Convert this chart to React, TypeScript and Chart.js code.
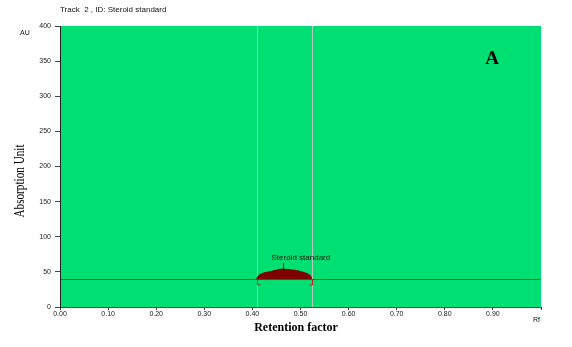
import React, { useEffect, useRef } from "react";
import { Chart, registerables } from "chart.js";

Chart.register(...registerables);

const peakRf = [0.409, 0.411, 0.415, 0.424, 0.438, 0.45, 0.462, 0.472, 0.485, 0.498, 0.51, 0.518, 0.522, 0.523];
const peakAU = [40, 43.5, 46, 48.5, 50.5, 52.5, 54, 53.5, 52.5, 51, 48.5, 46, 43, 40];
const baselineAU = 40;
const windowStart = 0.409;
const windowEnd = 0.523;
const peakLabel = "Steroid standard";
const peakLabelRf = 0.464;
const xTickMax = 0.9;

const GREEN = "#00e072";
const SANS = "'Liberation Sans', Arial, sans-serif";
const SERIF = "'Liberation Serif', 'Times New Roman', serif";

const decorPlugin = {
  id: "decor",
  beforeDraw(chart: any) {
    const { ctx, chartArea } = chart;
    ctx.save();
    ctx.fillStyle = "#ffffff";
    ctx.fillRect(0, 0, chart.width, chart.height);
    ctx.fillStyle = GREEN;
    ctx.fillRect(chartArea.left, chartArea.top, chartArea.right - chartArea.left, chartArea.bottom - chartArea.top);
    const xs = chart.scales.x;
    const ys = chart.scales.y;
    ctx.strokeStyle = "#b8c8c0";
    ctx.lineWidth = 1;
    [windowStart, windowEnd].forEach((v) => {
      const px = Math.round(xs.getPixelForValue(v)) + 0.5;
      ctx.beginPath();
      ctx.moveTo(px, chartArea.top);
      ctx.lineTo(px, chartArea.bottom);
      ctx.stroke();
    });
    const by = Math.round(ys.getPixelForValue(baselineAU)) + 0.5;
    ctx.strokeStyle = "#2f5e3e";
    ctx.beginPath();
    ctx.moveTo(chartArea.left, by);
    ctx.lineTo(chartArea.right, by);
    ctx.stroke();
    ctx.restore();
  },
  afterDraw(chart: any) {
    const { ctx } = chart;
    const xs = chart.scales.x;
    const ys = chart.scales.y;
    ctx.save();
    const by = Math.round(ys.getPixelForValue(baselineAU));
    ctx.strokeStyle = "#c02020";
    ctx.lineWidth = 1;
    const x1 = Math.round(xs.getPixelForValue(windowStart)) + 0.5;
    const x2 = Math.round(xs.getPixelForValue(windowEnd)) + 0.5;
    ctx.beginPath();
    ctx.moveTo(x1, by);
    ctx.lineTo(x1, by + 6);
    ctx.lineTo(x1 + 3, by + 6);
    ctx.moveTo(x2, by);
    ctx.lineTo(x2, by + 6);
    ctx.lineTo(x2 - 3, by + 6);
    ctx.stroke();
    const lx = Math.round(xs.getPixelForValue(peakLabelRf)) + 0.5;
    const ly = ys.getPixelForValue(54);
    ctx.strokeStyle = "#8b0000";
    ctx.beginPath();
    ctx.moveTo(lx, ly);
    ctx.lineTo(lx, ly - 6);
    ctx.stroke();
    ctx.fillStyle = "#111";
    ctx.font = `8px ${SANS}`;
    ctx.textAlign = "left";
    ctx.textBaseline = "middle";
    ctx.fillText(peakLabel, lx - 12, ly - 11);
    ctx.fillText("Track  2 , ID: Steroid standard", 60, 10);
    ctx.font = `7px ${SANS}`;
    ctx.fillText("AU", 20, 33);
    ctx.fillText("Rf", 533, 320);
    ctx.font = `bold 19px ${SERIF}`;
    ctx.textAlign = "center";
    ctx.fillStyle = "#000";
    ctx.fillText("A", 492, 59);
    ctx.font = `bold 12px ${SERIF}`;
    ctx.fillText("Retention factor", 296, 328);
    ctx.translate(20, 181);
    ctx.rotate(-Math.PI / 2);
    ctx.scale(0.8, 1);
    ctx.font = `14px ${SERIF}`;
    ctx.fillText("Absorption Unit", 0, 0);
    ctx.restore();
  },
};

export default function App() {
  const ref = useRef<HTMLCanvasElement>(null);
  useEffect(() => {
    document.body.style.margin = "0";
    const chart = new Chart(ref.current!, {
      type: "line",
      data: {
        datasets: [
          {
            data: peakRf.map((x, i) => ({ x, y: peakAU[i] })),
            borderColor: "#800000",
            backgroundColor: "#800000",
            borderWidth: 1,
            pointRadius: 0,
            tension: 0.3,
            fill: { value: baselineAU },
          },
        ],
      },
      options: {
        animation: false,
        responsive: false,
        plugins: { legend: { display: false }, tooltip: { enabled: false } },
        layout: { padding: { top: 26, right: 31, left: 0, bottom: 0 } },
        scales: {
          x: {
            type: "linear",
            min: 0,
            max: 1,
            afterFit: (s: any) => {
              s.height = 40;
            },
            grid: { drawOnChartArea: false, drawTicks: true, tickLength: 3, color: "#444" },
            border: { display: true, color: "#444", width: 1 },
            ticks: {
              stepSize: 0.1,
              padding: 0,
              color: "#222",
              font: { size: 7, family: SANS },
              maxRotation: 0,
              callback: (v: any) => (Number(v) > xTickMax + 0.001 ? "" : Number(v).toFixed(2)),
            },
          },
          y: {
            type: "linear",
            min: 0,
            max: 400,
            afterFit: (s: any) => {
              s.width = 60;
            },
            grid: { drawOnChartArea: false, drawTicks: true, tickLength: 5, color: "#444" },
            border: { display: true, color: "#222", width: 1 },
            ticks: {
              stepSize: 50,
              padding: 4,
              color: "#222",
              font: { size: 7, family: SANS },
            },
          },
        },
      },
      plugins: [decorPlugin],
    });
    return () => chart.destroy();
  }, []);
  return (
    <div style={{ position: "absolute", left: 0, top: 0, width: 572, height: 347 }}>
      <canvas ref={ref} width={572} height={347} style={{ width: 572, height: 347 }} />
    </div>
  );
}
